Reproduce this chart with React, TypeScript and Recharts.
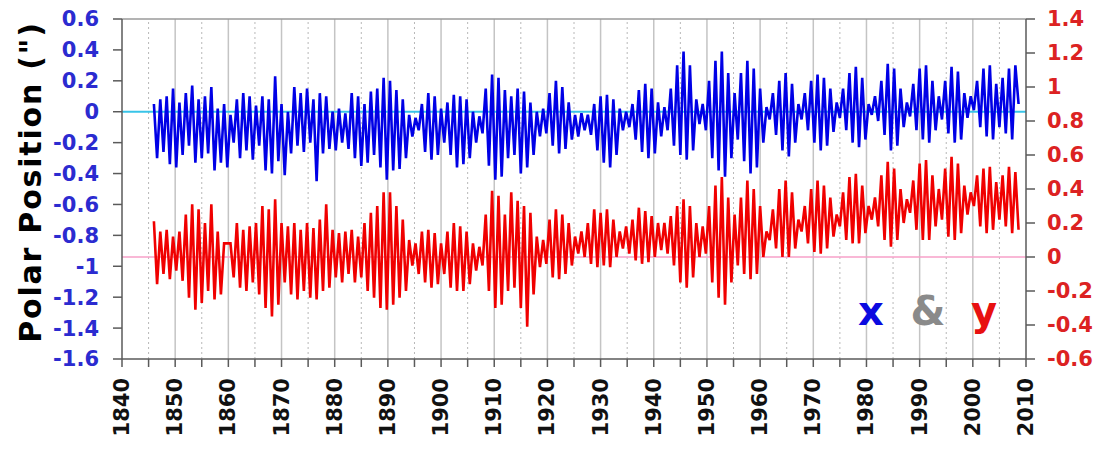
import React from 'react';
import { ComposedChart, Line, XAxis, YAxis, ReferenceLine } from 'recharts';

// Pole position series, one value every STEP years from START_YEAR.
const START_YEAR = 1846;
const STEP = 0.6;

// x component (arcsec, left axis); each row covers six years.
const xPole: number[] = [
  0.05, -0.3, 0.08, -0.26, 0.1, -0.34, 0.15, -0.36, 0.06, -0.28,
  0.12, -0.22, 0.17, -0.33, 0.08, -0.3, 0.1, -0.27, 0.16, -0.38,
  0.02, -0.33, 0.05, -0.36, -0.02, -0.2, 0.08, -0.3, 0.12, -0.25,
  0.1, -0.31, 0.04, -0.22, 0.1, -0.38, 0.08, -0.4, 0.23, -0.32,
  0.05, -0.41, 0.0, -0.27, 0.16, -0.22, 0.12, -0.26, 0.15, -0.2,
  0.08, -0.45, 0.12, -0.27, 0.1, -0.24, 0.0, -0.25, 0.02, -0.2,
  -0.01, -0.24, 0.12, -0.3, 0.1, -0.35, 0.05, -0.33, 0.13, -0.28,
  0.15, -0.36, 0.22, -0.44, 0.2, -0.38, 0.14, -0.37, 0.08, -0.3,
  -0.02, -0.16, -0.04, -0.12, 0.05, -0.26, 0.12, -0.31, 0.1, -0.28,
  0.02, -0.2, 0.06, -0.28, 0.11, -0.36, 0.1, -0.34, 0.08, -0.3,
  0.0, -0.2, -0.03, -0.14, 0.15, -0.35, 0.24, -0.44, 0.22, -0.42,
  0.14, -0.3, 0.1, -0.28, 0.15, -0.4, 0.13, -0.36, 0.06, -0.28,
  0.0, -0.16, 0.02, -0.14, 0.12, -0.22, 0.2, -0.27, 0.16, -0.24,
  0.06, -0.18, -0.02, -0.16, -0.01, -0.12, -0.02, -0.15, 0.05, -0.25,
  0.1, -0.33, 0.11, -0.36, 0.08, -0.28, 0.02, -0.12, 0.0, -0.1,
  0.05, -0.18, 0.14, -0.26, 0.18, -0.3, 0.15, -0.27, 0.06, -0.16,
  0.03, -0.12, 0.15, -0.22, 0.3, -0.28, 0.39, -0.31, 0.3, -0.25,
  0.08, -0.08, 0.05, -0.12, 0.2, -0.3, 0.33, -0.38, 0.39, -0.42,
  0.25, -0.3, 0.12, -0.18, 0.25, -0.32, 0.33, -0.4, 0.28, -0.36,
  0.15, -0.2, 0.03, -0.05, 0.12, -0.15, 0.2, -0.25, 0.25, -0.29,
  0.18, -0.2, 0.05, -0.05, 0.12, -0.12, 0.2, -0.2, 0.24, -0.25,
  0.22, -0.22, 0.15, -0.13, 0.06, -0.04, 0.15, -0.12, 0.25, -0.2,
  0.29, -0.23, 0.22, -0.18, 0.05, -0.02, 0.1, -0.06, 0.2, -0.15,
  0.31, -0.25, 0.28, -0.22, 0.15, -0.1, 0.06, -0.03, 0.18, -0.12,
  0.28, -0.18, 0.3, -0.2, 0.2, -0.12, 0.1, -0.05, 0.2, -0.14,
  0.29, -0.2, 0.26, -0.18, 0.12, -0.04, 0.1, 0.01, 0.2, -0.1,
  0.28, -0.16, 0.3, -0.18, 0.18, -0.1, 0.22, -0.14, 0.28, -0.18,
  0.3, 0.05,
];

// y component (arcsec, right axis); each row covers six years.
const yPole: number[] = [
  0.21, -0.16, 0.15, -0.1, 0.16, -0.13, 0.12, -0.08, 0.15, -0.14,
  0.25, -0.24, 0.31, -0.31, 0.28, -0.27, 0.2, -0.2, 0.31, -0.25,
  0.15, -0.22, 0.08, 0.08, 0.08, -0.12, 0.2, -0.18, 0.16, -0.2,
  0.18, -0.15, 0.2, -0.22, 0.3, -0.3, 0.28, -0.35, 0.34, -0.28,
  0.2, -0.15, 0.18, -0.22, 0.2, -0.25, 0.16, -0.2, 0.2, -0.24,
  0.17, -0.25, 0.22, -0.2, 0.31, -0.18, 0.16, -0.12, 0.14, -0.15,
  0.15, -0.1, 0.16, -0.15, 0.12, -0.12, 0.2, -0.2, 0.26, -0.24,
  0.3, -0.3, 0.38, -0.31, 0.38, -0.28, 0.3, -0.24, 0.22, -0.2,
  0.1, -0.05, 0.08, -0.1, 0.15, -0.15, 0.16, -0.18, 0.14, -0.16,
  0.08, -0.1, 0.15, -0.18, 0.2, -0.2, 0.18, -0.2, 0.15, -0.16,
  0.08, -0.08, 0.06, -0.05, 0.25, -0.2, 0.39, -0.3, 0.36, -0.28,
  0.25, -0.2, 0.38, -0.18, 0.33, -0.3, 0.3, -0.41, 0.26, -0.22,
  0.12, -0.06, 0.1, -0.04, 0.22, -0.12, 0.28, -0.13, 0.25, -0.1,
  0.2, -0.05, 0.12, 0.02, 0.15, 0.0, 0.2, -0.04, 0.28, -0.06,
  0.26, -0.05, 0.28, -0.06, 0.22, 0.0, 0.15, 0.05, 0.18, 0.02,
  0.22, -0.02, 0.29, -0.04, 0.27, -0.03, 0.24, 0.0, 0.2, 0.04,
  0.2, 0.02, 0.24, -0.05, 0.3, -0.15, 0.34, -0.18, 0.3, -0.12,
  0.2, 0.0, 0.18, 0.02, 0.3, -0.15, 0.42, -0.24, 0.47, -0.28,
  0.35, -0.15, 0.25, -0.05, 0.35, -0.1, 0.45, -0.13, 0.4, -0.1,
  0.3, 0.0, 0.15, 0.1, 0.28, 0.05, 0.4, 0.0, 0.45, 0.0,
  0.38, 0.05, 0.22, 0.15, 0.3, 0.08, 0.4, 0.03, 0.45, 0.02,
  0.42, 0.05, 0.35, 0.12, 0.25, 0.18, 0.38, 0.1, 0.47, 0.08,
  0.49, 0.08, 0.42, 0.14, 0.3, 0.22, 0.35, 0.18, 0.48, 0.1,
  0.56, 0.06, 0.52, 0.1, 0.4, 0.2, 0.34, 0.26, 0.45, 0.16,
  0.55, 0.1, 0.57, 0.1, 0.48, 0.18, 0.4, 0.22, 0.52, 0.12,
  0.59, 0.1, 0.55, 0.14, 0.42, 0.25, 0.38, 0.3, 0.48, 0.18,
  0.52, 0.14, 0.53, 0.16, 0.44, 0.22, 0.48, 0.18, 0.53, 0.14,
  0.5, 0.16,
];

const yearTicks = [
  1840, 1845, 1850, 1855, 1860, 1865, 1870, 1875, 1880, 1885, 1890, 1895, 1900, 1905,
  1910, 1915, 1920, 1925, 1930, 1935, 1940, 1945, 1950, 1955, 1960, 1965, 1970, 1975,
  1980, 1985, 1990, 1995, 2000, 2005, 2010,
];
const decadeLines = [1850, 1860, 1870, 1880, 1890, 1900, 1910, 1920, 1930, 1940, 1950, 1960, 1970, 1980, 1990, 2000];
const halfDecadeLines = [1845, 1855, 1865, 1875, 1885, 1895, 1905, 1915, 1925, 1935, 1945, 1955, 1965, 1975, 1985, 1995, 2005];
const leftTicks = [-1.6, -1.4, -1.2, -1, -0.8, -0.6, -0.4, -0.2, 0, 0.2, 0.4, 0.6];
const rightTicks = [-0.6, -0.4, -0.2, 0, 0.2, 0.4, 0.6, 0.8, 1, 1.2, 1.4];

const data = xPole.map((v, i) => ({ t: START_YEAR + i * STEP, x: v, y: yPole[i] }));

const FONT = '"DejaVu Sans", Verdana, sans-serif';
const AXIS_COLOR = '#5a5a5a';

const fmt = (v: number) => String(Math.round(v * 10) / 10);

const YearTick = (props: any) => {
  const { x, y, payload } = props;
  if (payload.value % 10 !== 0) return <g />;
  return (
    <text
      x={x}
      y={y}
      transform={`rotate(-90 ${x} ${y})`}
      textAnchor="end"
      dominantBaseline="central"
      fontFamily={FONT}
      fontWeight="bold"
      fontSize={21}
      fill="#111"
    >
      {payload.value}
    </text>
  );
};

const TitleLabel = () => (
  <text
    x={22}
    y={174}
    transform="rotate(-90 22 174)"
    textAnchor="middle"
    dominantBaseline="central"
    fontFamily={FONT}
    fontWeight="bold"
    fontSize={30}
    letterSpacing={1.8}
    fill="#000"
  >
    Polar Position (")
  </text>
);

export default function App() {
  return (
    <div style={{ position: 'relative', width: 1087, height: 440 }}>
      <ComposedChart
        width={1087}
        height={440}
        data={data}
        margin={{ top: 11, right: 0, bottom: 0, left: 0 }}
      >
        <XAxis
          type="number"
          dataKey="t"
          domain={[1840, 2010]}
          ticks={yearTicks}
          interval={0}
          allowDataOverflow
          height={89}
          tick={<YearTick />}
          tickSize={8}
          tickMargin={11}
          axisLine={{ stroke: AXIS_COLOR, strokeWidth: 1.5 }}
          tickLine={{ stroke: AXIS_COLOR, strokeWidth: 1.5 }}
        />
        <YAxis
          yAxisId="left"
          type="number"
          domain={[-1.6, 0.6]}
          ticks={leftTicks}
          interval={0}
          allowDataOverflow
          width={114}
          tickSize={9}
          tickMargin={14}
          tickFormatter={fmt}
          tick={{ fill: '#2b2bd0', fontFamily: FONT, fontWeight: 'bold', fontSize: 21 }}
          axisLine={{ stroke: AXIS_COLOR, strokeWidth: 1.5 }}
          tickLine={{ stroke: AXIS_COLOR, strokeWidth: 1.5 }}
          label={<TitleLabel />}
        />
        <YAxis
          yAxisId="right"
          orientation="right"
          type="number"
          domain={[-0.6, 1.4]}
          ticks={rightTicks}
          interval={0}
          allowDataOverflow
          width={69}
          tickSize={9}
          tickMargin={12}
          tickFormatter={fmt}
          tick={{ fill: '#dc2222', fontFamily: FONT, fontWeight: 'bold', fontSize: 21, textAnchor: 'start' }}
          axisLine={{ stroke: AXIS_COLOR, strokeWidth: 1.5 }}
          tickLine={{ stroke: AXIS_COLOR, strokeWidth: 1.5 }}
        />
        {halfDecadeLines.map((yr) => (
          <ReferenceLine key={`h${yr}`} yAxisId="left" x={yr} stroke="#b8b8b8" strokeWidth={1} strokeDasharray="2 3" />
        ))}
        {decadeLines.map((yr) => (
          <ReferenceLine key={`d${yr}`} yAxisId="left" x={yr} stroke="#c4c4c4" strokeWidth={1.5} />
        ))}
        <ReferenceLine yAxisId="left" y={0.6} stroke="#9a9a9a" strokeWidth={1.5} />
        <ReferenceLine yAxisId="left" y={0} stroke="#38c4e8" strokeWidth={2} />
        <ReferenceLine yAxisId="right" y={0} stroke="#f7a0c8" strokeWidth={1.5} />
        <Line
          yAxisId="right"
          type="linear"
          dataKey="y"
          stroke="#f00000"
          strokeWidth={2.6}
          strokeLinejoin="miter"
          dot={false}
          isAnimationActive={false}
        />
        <Line
          yAxisId="left"
          type="linear"
          dataKey="x"
          stroke="#0000e6"
          strokeWidth={2.6}
          strokeLinejoin="miter"
          dot={false}
          isAnimationActive={false}
        />
      </ComposedChart>
      <svg
        width={1087}
        height={440}
        style={{ position: 'absolute', left: 0, top: 0, pointerEvents: 'none' }}
      >
        <g fontFamily={FONT} fontWeight="bold" fontSize={40} textAnchor="middle">
          <text x={863} y={317} fill="#0a0ae0">x</text>
          <text x={920} y={317} fill="#8a8a8a">&amp;</text>
          <text x={976} y={317} fill="#e81010">y</text>
        </g>
      </svg>
    </div>
  );
}
